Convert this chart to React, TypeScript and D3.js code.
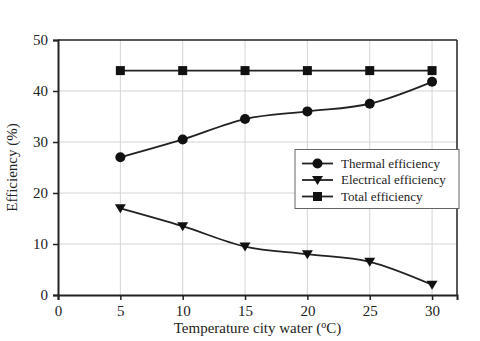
import { useEffect, useRef } from "react";
import * as d3 from "d3";

const temps = [5, 10, 15, 20, 25, 30];
const thermal = [27, 30.5, 34.5, 36, 37.5, 41.8];
const electrical = [17, 13.5, 9.5, 8, 6.5, 2];
const total = [44, 44, 44, 44, 44, 44];
const seriesNames = ["Thermal efficiency", "Electrical efficiency", "Total efficiency"];
const xTicks = [0, 5, 10, 15, 20, 25, 30];
const yTicks = [0, 10, 20, 30, 40, 50];

export default function App() {
  const svgRef = useRef<SVGSVGElement>(null);

  useEffect(() => {
    const width = 480;
    const height = 341;
    const margin = { top: 40, right: 23, bottom: 46, left: 58 };
    const w = width - margin.left - margin.right;
    const h = height - margin.top - margin.bottom;

    d3.select(svgRef.current).selectAll("*").remove();
    const root = d3
      .select(svgRef.current)
      .attr("width", width)
      .attr("height", height)
      .style("font-family", "'Liberation Serif', 'Times New Roman', serif");

    const svg = root.append("g").attr("transform", `translate(${margin.left},${margin.top})`);

    const x = d3.scaleLinear().domain([0, 32]).range([0, w]);
    const y = d3.scaleLinear().domain([0, 50]).range([h, 0]);

    // grid
    svg
      .selectAll(".vgrid")
      .data(xTicks.filter((t) => t > 0))
      .join("line")
      .attr("x1", (d) => x(d))
      .attr("x2", (d) => x(d))
      .attr("y1", 0)
      .attr("y2", h)
      .attr("stroke", "#d4d4d4")
      .attr("stroke-width", 1);
    svg
      .selectAll(".hgrid")
      .data(yTicks.filter((t) => t > 0 && t < 50))
      .join("line")
      .attr("x1", 0)
      .attr("x2", w)
      .attr("y1", (d) => y(d))
      .attr("y2", (d) => y(d))
      .attr("stroke", "#d4d4d4")
      .attr("stroke-width", 1);

    // frame top/right
    svg.append("line").attr("x1", 0).attr("x2", w).attr("y1", 0).attr("y2", 0).attr("stroke", "#222").attr("stroke-width", 1.5);
    svg.append("line").attr("x1", w).attr("x2", w).attr("y1", 0).attr("y2", h).attr("stroke", "#222").attr("stroke-width", 1.5);

    const xAxis = svg
      .append("g")
      .attr("transform", `translate(0,${h})`)
      .call(d3.axisBottom(x).tickValues(xTicks).tickSize(5).tickPadding(5));
    const yAxis = svg.append("g").call(d3.axisLeft(y).tickValues(yTicks).tickSize(5).tickPadding(5));
    [xAxis, yAxis].forEach((g) => {
      g.select(".domain").attr("stroke", "#222").attr("stroke-width", 2);
      g.selectAll(".tick line").attr("stroke", "#222").attr("stroke-width", 1.5);
      g.selectAll(".tick text")
        .attr("fill", "#222")
        .style("font-size", "15px")
        .style("font-family", "'Liberation Serif', serif");
    });

    const line = d3
      .line<number>()
      .x((_, i) => x(temps[i]))
      .y((d) => y(d))
      .curve(d3.curveMonotoneX);

    const all = [thermal, electrical, total];
    all.forEach((vals) => {
      svg
        .append("path")
        .attr("d", line(vals))
        .attr("fill", "none")
        .attr("stroke", "#222")
        .attr("stroke-width", 1.8);
    });

    const drawMarker = (g: any, kind: number, cx: number, cy: number) => {
      if (kind === 0) {
        g.append("circle").attr("cx", cx).attr("cy", cy).attr("r", 5).attr("fill", "#111");
      } else if (kind === 1) {
        g.append("path")
          .attr("d", `M${cx - 5.5},${cy - 4} L${cx + 5.5},${cy - 4} L${cx},${cy + 5} Z`)
          .attr("fill", "#111");
      } else {
        g.append("rect").attr("x", cx - 4.5).attr("y", cy - 4.5).attr("width", 9).attr("height", 9).attr("fill", "#111");
      }
    };

    all.forEach((vals, k) => {
      vals.forEach((v, i) => drawMarker(svg, k, x(temps[i]), y(v)));
    });

    // legend
    const lg = root.append("g").attr("transform", "translate(295,149.5)");
    lg.append("rect")
      .attr("width", 164)
      .attr("height", 59)
      .attr("fill", "white")
      .attr("stroke", "#666")
      .attr("stroke-width", 1);
    seriesNames.forEach((name, k) => {
      const yy = 14 + k * 16.5;
      lg.append("line").attr("x1", 7).attr("x2", 38).attr("y1", yy).attr("y2", yy).attr("stroke", "#222").attr("stroke-width", 1.8);
      drawMarker(lg, k, 22.5, yy);
      lg.append("text")
        .attr("x", 46)
        .attr("y", yy + 4)
        .attr("fill", "#222")
        .style("font-size", "13px")
        .text(name);
    });

    // axis titles
    const xt = root
      .append("text")
      .attr("x", margin.left + x(16))
      .attr("y", 333)
      .attr("text-anchor", "middle")
      .attr("fill", "#222")
      .style("font-size", "15px");
    xt.append("tspan").text("Temperature city water (");
    xt.append("tspan").attr("dy", -5).style("font-size", "10px").text("o");
    xt.append("tspan").attr("dy", 5).text("C)");

    root
      .append("text")
      .attr("transform", `translate(17,${margin.top + h / 2}) rotate(-90)`)
      .attr("text-anchor", "middle")
      .attr("fill", "#222")
      .style("font-size", "15px")
      .text("Efficiency (%)");
  }, []);

  return <svg ref={svgRef} style={{ position: "absolute", left: 0, top: 0 }}></svg>;
}
